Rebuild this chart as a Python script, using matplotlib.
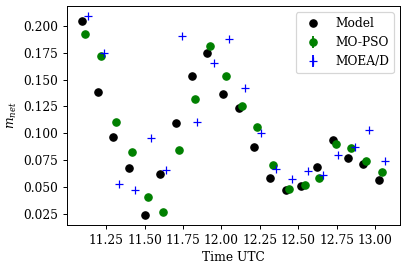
import numpy as np
import matplotlib
matplotlib.use("Agg")
import matplotlib.pyplot as plt

plt.rcParams['font.family'] = 'serif'
plt.rcParams['font.serif'] = ['DejaVu Serif']
plt.rcParams['mathtext.fontset'] = 'dejavuserif'

DPI = 88

# observed / model values
t_model = [11.094, 11.194, 11.297, 11.401, 11.505, 11.600, 11.704, 11.810, 11.905, 12.010,
           12.114, 12.211, 12.315, 12.418, 12.516, 12.619, 12.723, 12.820, 12.924, 13.028]
m_model = [0.2044, 0.1389, 0.0967, 0.0677, 0.0237, 0.0624, 0.1098, 0.1538, 0.1744, 0.1370,
           0.1238, 0.0874, 0.0583, 0.0471, 0.0508, 0.0686, 0.0939, 0.0770, 0.0714, 0.0565]

t_pso = [11.114, 11.218, 11.317, 11.419, 11.524, 11.621, 11.723, 11.829, 11.926, 12.030,
         12.133, 12.230, 12.334, 12.438, 12.541, 12.637, 12.742, 12.846, 12.943, 13.047]
m_pso = [0.1930, 0.1716, 0.1108, 0.0827, 0.0405, 0.0268, 0.0846, 0.1323, 0.1810, 0.1538,
         0.1257, 0.1061, 0.0708, 0.0480, 0.0518, 0.0583, 0.0902, 0.0864, 0.0742, 0.0640]

t_moead = [11.135, 11.239, 11.336, 11.440, 11.542, 11.641, 11.745, 11.844, 11.950, 12.052,
           12.151, 12.256, 12.354, 12.457, 12.561, 12.658, 12.760, 12.866, 12.963, 13.063]
m_moead = [0.2094, 0.1750, 0.0530, 0.0471, 0.0958, 0.0658, 0.1906, 0.1108, 0.1653, 0.1875,
           0.1426, 0.1005, 0.0668, 0.0574, 0.0649, 0.0614, 0.0800, 0.0873, 0.1033, 0.0742]

xticks = [11.25, 11.5, 11.75, 12.0, 12.25, 12.5, 12.75, 13.0]
yticks = [0.025, 0.050, 0.075, 0.100, 0.125, 0.150, 0.175, 0.200]

fig = plt.figure(figsize=(407 / DPI, 268 / DPI), dpi=DPI)
ax = fig.add_axes([0.1646, 0.1604, 0.8182, 0.8172])

ax.plot(t_model, m_model, 'ko', label='Model')
ax.errorbar(t_pso, m_pso, yerr=np.zeros(len(m_pso)), fmt='o', color='green', label='MO-PSO')
ax.errorbar(t_moead, m_moead, yerr=np.zeros(len(m_moead)), fmt='+', color='blue',
            label='MOEA/D')

ax.set_xlabel("Time UTC")
ax.set_ylabel(r"$m_{net}$")
ax.set_xticks(xticks)
ax.set_xticklabels([f"{v:.2f}" for v in xticks])
ax.set_yticks(yticks)
ax.set_yticklabels([f"{v:.3f}" for v in yticks])
ax.legend(loc='upper right')

fig.savefig("out.png", dpi=DPI)
